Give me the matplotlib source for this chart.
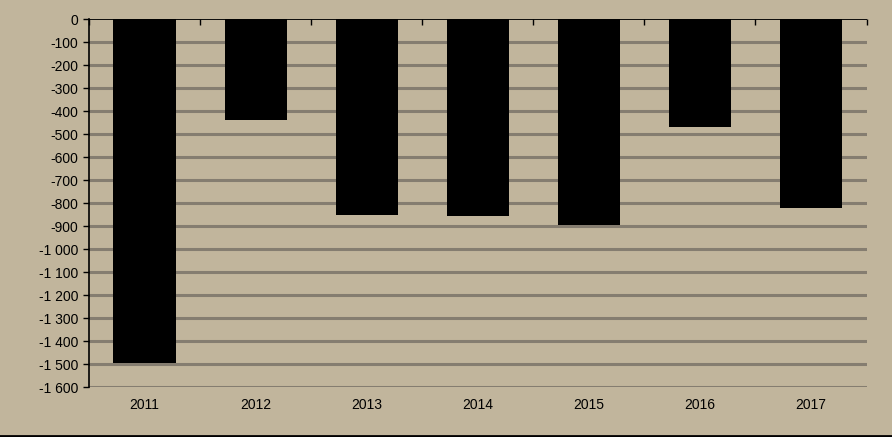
import matplotlib
matplotlib.use("Agg")
import matplotlib.pyplot as plt
from matplotlib.ticker import FuncFormatter, FixedLocator

years = ["2011", "2012", "2013", "2014", "2015", "2016", "2017"]
values = [-1495, -437, -852, -857, -895, -470, -822]
yticks = list(range(0, -1700, -100))

bg = "#C1B59C"
grid_c = "#857D70"

plt.rcParams["font.family"] = ["Liberation Sans", "DejaVu Sans"]

fig = plt.figure(figsize=(8.92, 4.37), dpi=100, facecolor=bg)
ax = fig.add_axes([89/892, 1-387/437, (866.5-89)/892, (387-19)/437])
ax.set_facecolor(bg)

x = list(range(len(years)))
for yv in yticks[1:]:
    ax.axhline(yv, color=grid_c, lw=2.2, zorder=1)
ax.bar(x, values, width=0.56, color="black", zorder=2)
ax.axhline(0, color="black", lw=1.3, zorder=3)

ax.set_xlim(-0.5, len(years)-0.5)
ax.set_ylim(-1600, 0)
for s in ["top", "right", "bottom"]:
    ax.spines[s].set_visible(False)
ax.spines["left"].set_color("black")
ax.spines["left"].set_linewidth(1.2)
ax.spines["left"].set_zorder(4)

ax.set_yticks(yticks)
ax.yaxis.set_major_formatter(FuncFormatter(lambda v, p: "{:,}".format(int(v)).replace(",", " ")))
ax.tick_params(axis="y", direction="out", length=4.5, width=1, color="black", labelsize=10, pad=3, labelcolor="black")

ax.set_xticks(x)
ax.set_xticklabels(years)
ax.tick_params(axis="x", which="major", length=0, labelsize=10, pad=8, labelcolor="black")
ax.xaxis.set_minor_locator(FixedLocator([i - 0.5 for i in range(len(years)+1)]))
ax.tick_params(axis="x", which="minor", top=True, bottom=False, direction="in", length=4, width=1, color="black")

fig.add_artist(plt.Line2D([0, 1], [1/437, 1/437], transform=fig.transFigure, color="black", lw=2))

fig.savefig("out.png", dpi=100, facecolor=bg)
